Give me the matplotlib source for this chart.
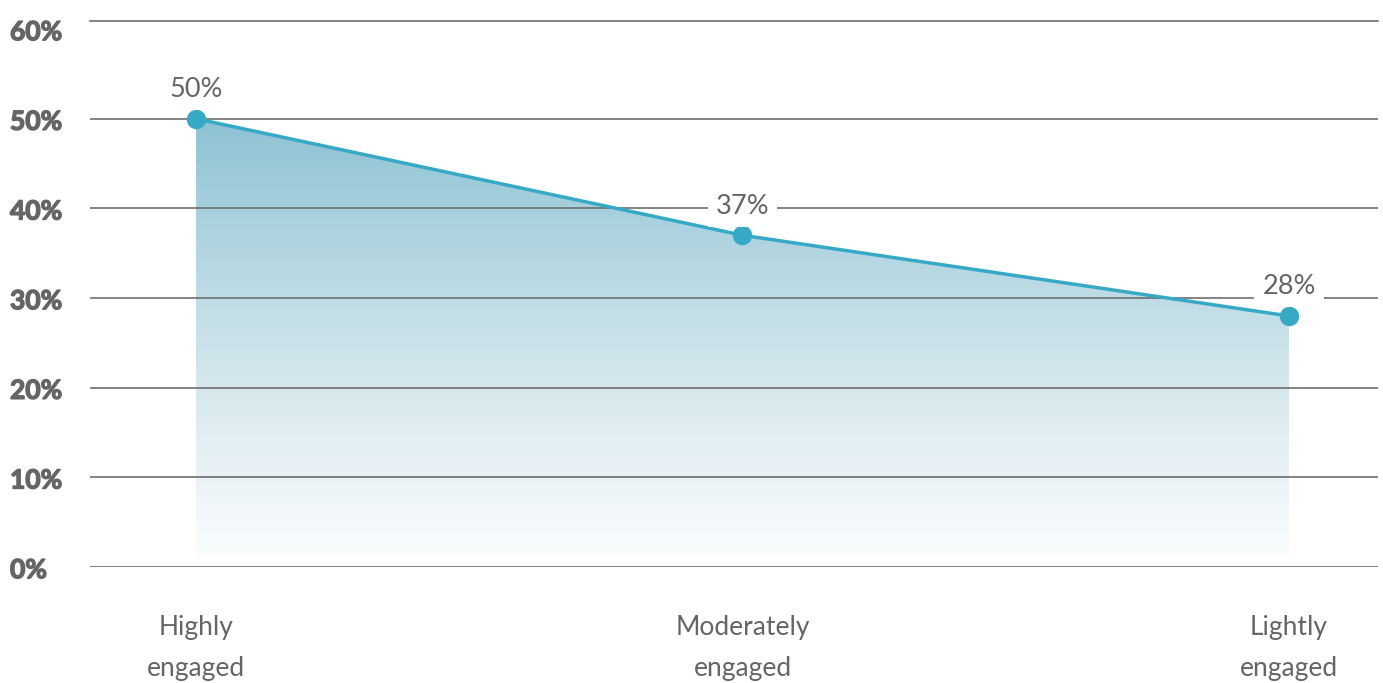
import numpy as np
import matplotlib
matplotlib.use("Agg")
import matplotlib.pyplot as plt
import matplotlib.transforms as mtransforms
import matplotlib.patheffects as pe
from matplotlib.colors import LinearSegmentedColormap
from matplotlib.patches import Polygon

plt.rcParams['font.family'] = ['Lato', 'DejaVu Sans']

categories = [("Highly", "engaged"), ("Moderately", "engaged"), ("Lightly", "engaged")]
values = [50, 37, 28]
value_labels = ["50%", "37%", "28%"]
y_ticks = [0, 10, 20, 30, 40, 50, 60]
y_tick_labels = ["0%", "10%", "20%", "30%", "40%", "50%", "60%"]

line_color = "#35a9c6"
grid_color = "#6e6e6e"
text_color = "#656565"

fig = plt.figure(figsize=(13.83, 6.83), dpi=100)
ax = fig.add_axes([0.0651, 0.1698, 0.9313, 0.7999])

x = np.arange(len(categories))
ax.set_xlim(-0.194, 2.163)
ax.set_ylim(0, 60.93)

# gradient fill under the line, fading toward the baseline
fill_bottom = 1.0
cmap = LinearSegmentedColormap.from_list(
    "fade", ["#fbfdfe", "#dcebf0", "#b6d8e3", "#8dc2d3"])
grad = np.linspace(0, 1, 256).reshape(-1, 1)
img = ax.imshow(grad, cmap=cmap, origin="lower", aspect="auto",
                extent=[x[0], x[-1], fill_bottom, max(values)],
                vmin=0, vmax=1, zorder=1, interpolation="bilinear")
poly_pts = [(x[0], fill_bottom)] + list(zip(x, values)) + [(x[-1], fill_bottom)]
clip = Polygon(poly_pts, closed=True, transform=ax.transData,
               facecolor="none", edgecolor="none")
ax.add_patch(clip)
img.set_clip_path(clip)

# horizontal gridlines and top border
for yv in [0, 10, 20, 30, 40, 50]:
    ax.axhline(yv, color=grid_color, lw=1.2, zorder=2)
ax.axhline(60.93, color=grid_color, lw=1.2, zorder=2, clip_on=False)

ax.plot(x, values, color=line_color, lw=2.5, zorder=4,
        marker="o", markersize=13, markerfacecolor=line_color,
        markeredgecolor=line_color)

for xi, v, lab in zip(x, values, value_labels):
    ax.annotate(lab, (xi, v), xytext=(0, 21), textcoords="offset points",
                ha="center", va="center", fontsize=19.5, color=text_color,
                zorder=5,
                bbox=dict(boxstyle="square,pad=0.3", fc="white", ec="none"))

for s in ax.spines.values():
    s.set_visible(False)
ax.set_xticks([])
ax.set_yticks([])

# y tick labels, left aligned near the figure edge
tick_tf = mtransforms.blended_transform_factory(fig.transFigure, ax.transData)
heavy = [pe.withStroke(linewidth=1.0, foreground=text_color)]
for yv, lab in zip(y_ticks, y_tick_labels):
    ax.text(10 / 1383, yv - 0.35, lab, transform=tick_tf,
            ha="left", va="center", fontsize=19, fontweight="bold",
            color=text_color, path_effects=heavy)

# category labels, two lines each
for xi, (l1, l2) in zip(x, categories):
    ax.text(xi, -7.58, l1, ha="center", va="baseline", fontsize=19,
            color=text_color, clip_on=False)
    ax.text(xi, -12.2, l2, ha="center", va="baseline", fontsize=19,
            color=text_color, clip_on=False)

fig.savefig("out.png", dpi=100)
